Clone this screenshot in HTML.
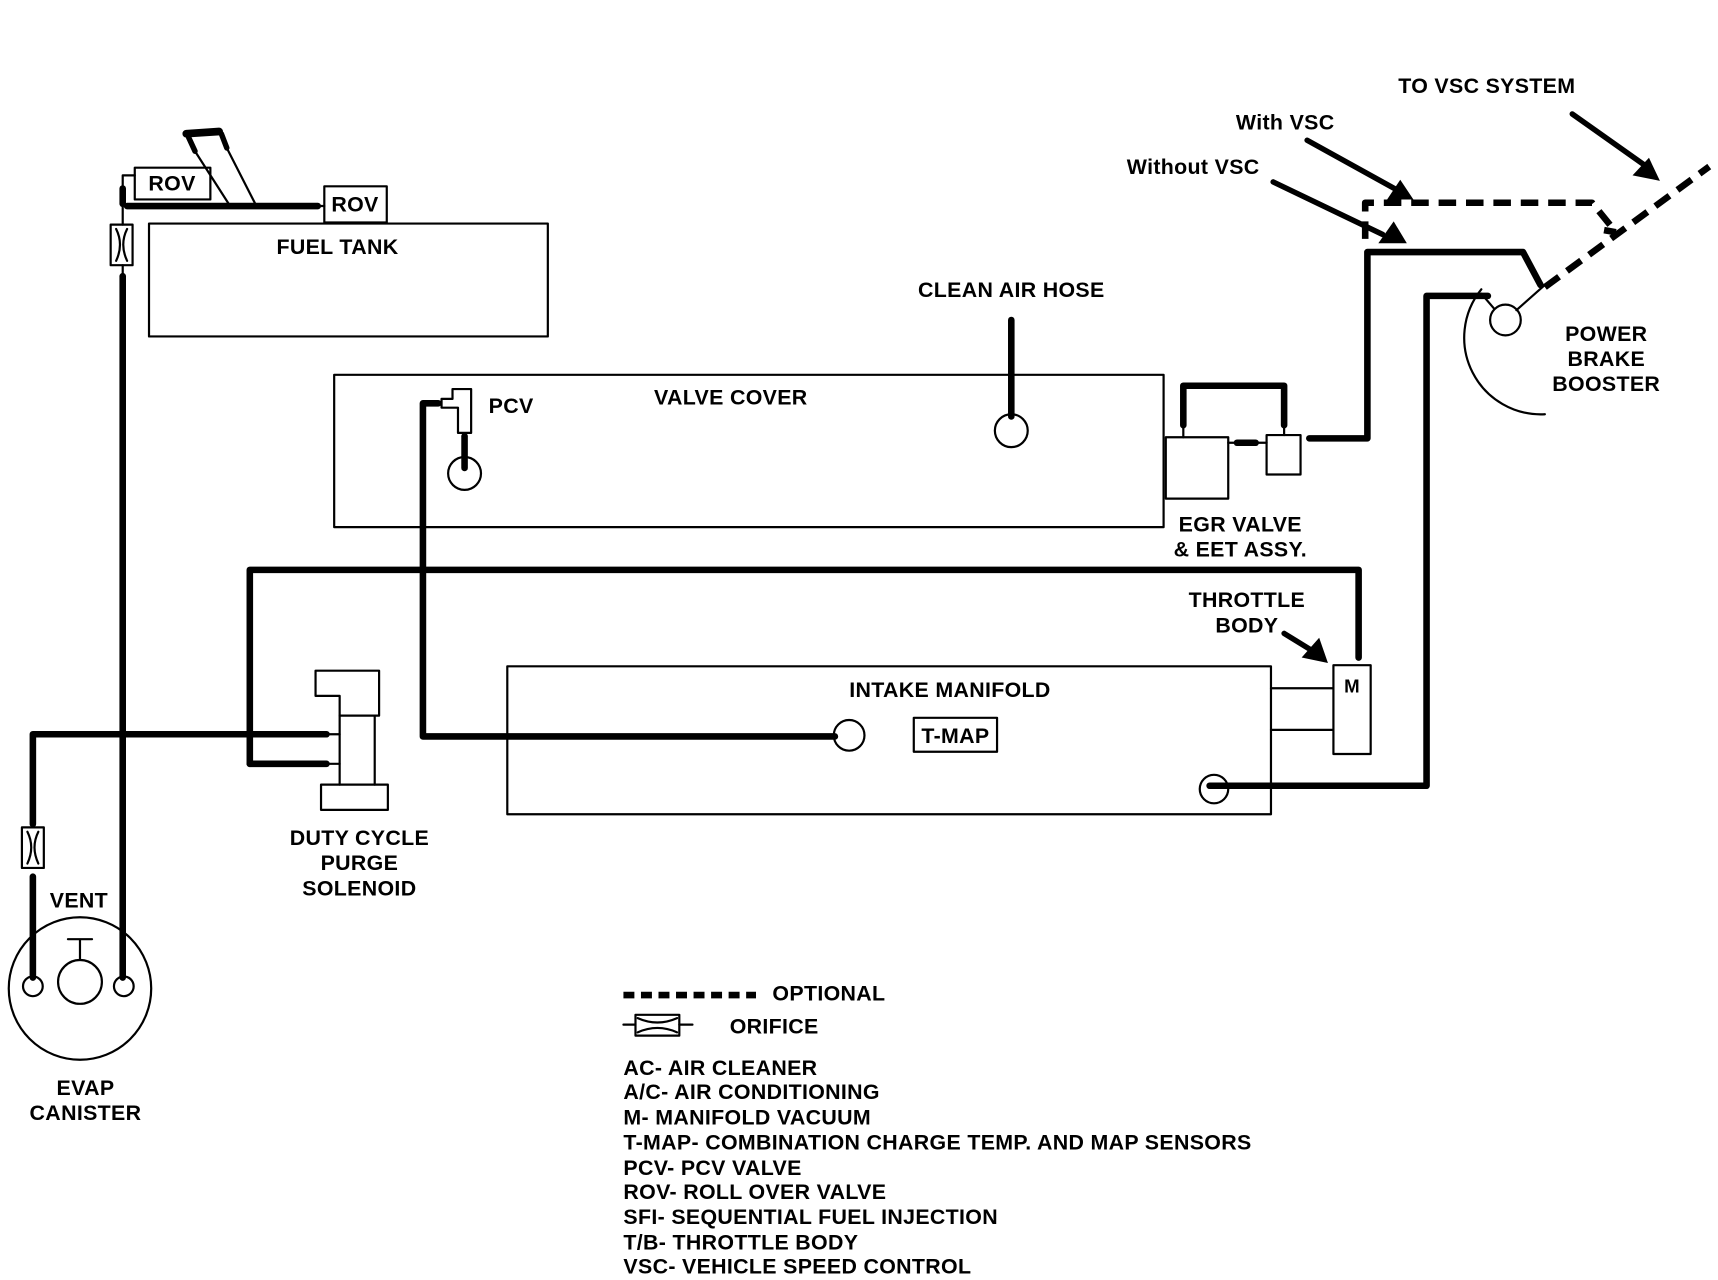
<!DOCTYPE html>
<html><head><meta charset="utf-8"><style>
html,body{margin:0;padding:0;background:#fff;}
svg{display:block;}
text{font-family:"Liberation Sans",Arial,sans-serif;font-weight:bold;fill:#000;letter-spacing:0.3px;}
</style></head><body>
<svg width="1718" height="1280" viewBox="0 0 1568 1168" preserveAspectRatio="none" xmlns="http://www.w3.org/2000/svg">
<g fill="none" stroke="#000" stroke-linejoin="round" stroke-linecap="round">
<rect x="136" y="204" width="364" height="103" stroke-width="2"/>
<rect x="123" y="153" width="69" height="29" stroke-width="2"/>
<rect x="296" y="170" width="57" height="33" stroke-width="2"/>
<path d="M116 188 H290" stroke-width="6"/>
<path d="M290 188 H296" stroke-width="2"/>
<path d="M170 122 L200 120" stroke-width="7"/>
<path d="M172 125 L178 138 M202 122 L207 135" stroke-width="5"/>
<path d="M178 138 L210 188 M207 135 L234 188" stroke-width="2"/>
<path d="M112 172 V160 H123" stroke-width="2"/>
<path d="M112 172 V186" stroke-width="6"/>
<path d="M112 188 V205" stroke-width="2"/>
<rect x="101" y="205" width="20" height="37" stroke-width="2"/>
<path d="M106 209 Q113 223 106 238 M116 209 Q109 223 116 238" stroke-width="2"/>
<path d="M112 242 V250" stroke-width="2"/>
<path d="M112 252 V892" stroke-width="6"/>
<path d="M30 752 V670 H298" stroke-width="6"/>
<rect x="20" y="755" width="20" height="37" stroke-width="2"/>
<path d="M25 759 Q32 773 25 788 M35 759 Q28 773 35 788" stroke-width="2"/>
<path d="M30 800 V892" stroke-width="6"/>
<circle cx="73" cy="902" r="65" stroke-width="2"/>
<circle cx="73" cy="896" r="20" stroke-width="2"/>
<path d="M62 857 H84 M73 857 V876" stroke-width="2"/>
<circle cx="30" cy="900" r="9" stroke-width="2"/>
<circle cx="113" cy="900" r="9" stroke-width="2"/>
<path d="M228 697 V520 H1240 V600" stroke-width="6"/>
<path d="M228 697 H298" stroke-width="6"/>
<path d="M298 670 H310 M298 697 H310" stroke-width="2"/>
<path d="M288 612 H346 V653 H310 V635 H288 Z" stroke-width="2"/>
<path d="M310 653 V716 M342 653 V716" stroke-width="2"/>
<rect x="293" y="716" width="61" height="23" stroke-width="2"/>
<rect x="305" y="342" width="757" height="139" stroke-width="2"/>
<path d="M923 292 V380" stroke-width="6"/>
<circle cx="923" cy="393" r="15" stroke-width="2"/>
<path d="M403 364 H413 V355 H430 V395 H418 V372 H403 Z" stroke-width="2"/>
<path d="M424 398 V427" stroke-width="6"/>
<circle cx="424" cy="432" r="15" stroke-width="2"/>
<path d="M400 368 H386 V672 H762" stroke-width="6"/>
<circle cx="775" cy="671" r="14" stroke-width="2"/>
<rect x="463" y="608" width="697" height="135" stroke-width="2"/>
<rect x="834" y="655" width="76" height="31" stroke-width="2"/>
<path d="M1160 628 H1217 M1160 666 H1217" stroke-width="2"/>
<rect x="1217" y="607" width="34" height="81" stroke-width="2"/>
<circle cx="1108" cy="720" r="13" stroke-width="2"/>
<path d="M1104 717 H1302 V270 H1358" stroke-width="6"/>
<rect x="1064" y="399" width="57" height="56" stroke-width="2"/>
<rect x="1156" y="397" width="31" height="36" stroke-width="2"/>
<path d="M1080 388 V352 H1172 V388" stroke-width="6"/>
<path d="M1080 388 V399 M1172 388 V397" stroke-width="2"/>
<path d="M1129 404 H1146" stroke-width="6"/>
<path d="M1121 404 H1156" stroke-width="2"/>
<path d="M1195 400 H1248 V230 H1390 L1406 260" stroke-width="6"/>
<path d="M1352 264 A70 70 0 0 0 1410 378" stroke-width="2"/>
<circle cx="1374" cy="292" r="14" stroke-width="2"/>
<path d="M1364 282 L1352 268 M1384 283 L1410 260" stroke-width="2"/>
<path d="M1246 218 V185 H1453 L1475 212 L1464 210" stroke-width="6" stroke-dasharray="16 9" stroke-linecap="butt"/>
<path d="M1410 262 L1560 152" stroke-width="6" stroke-dasharray="16 9" stroke-linecap="butt"/>
<path d="M1193 128 L1278 175 M1162 166 L1262 214 M1435 104 L1500 150" stroke-width="5"/>
<path d="M1172 578 L1198 594" stroke-width="5"/>
<path d="M569 908 H690" stroke-width="6" stroke-dasharray="10 6" stroke-linecap="butt"/>
<path d="M569 935 H580 M620 935 H632" stroke-width="2"/>
<rect x="580" y="926" width="40" height="19" stroke-width="2"/>
<path d="M582 929 Q600 937 618 929 M582 942 Q600 934 618 942" stroke-width="2"/>
</g>
<g fill="#000">
<polygon points="1290,182 1266,182 1278,164"/>
<polygon points="1284,222 1258,222 1272,202"/>
<polygon points="1515,165 1490,160 1505,144"/>
<polygon points="1212,605 1188,600 1204,582"/>
</g>
<g font-size="19.5">
<text x="308" y="232" text-anchor="middle">FUEL TANK</text>
<text x="157" y="174" text-anchor="middle">ROV</text>
<text x="324" y="193" text-anchor="middle">ROV</text>
<text x="667" y="369" text-anchor="middle">VALVE COVER</text>
<text x="446" y="377">PCV</text>
<text x="923" y="271" text-anchor="middle">CLEAN AIR HOSE</text>
<text x="1357" y="85" text-anchor="middle">TO VSC SYSTEM</text>
<text x="1173" y="118" text-anchor="middle">With VSC</text>
<text x="1089" y="159" text-anchor="middle">Without VSC</text>
<text x="1466" y="311" text-anchor="middle">POWER</text>
<text x="1466" y="334" text-anchor="middle">BRAKE</text>
<text x="1466" y="357" text-anchor="middle">BOOSTER</text>
<text x="1132" y="485" text-anchor="middle">EGR VALVE</text>
<text x="1132" y="508" text-anchor="middle">&amp; EET ASSY.</text>
<text x="1138" y="554" text-anchor="middle">THROTTLE</text>
<text x="1138" y="577" text-anchor="middle">BODY</text>
<text x="1234" y="632" text-anchor="middle" font-size="17">M</text>
<text x="867" y="636" text-anchor="middle">INTAKE MANIFOLD</text>
<text x="872" y="678" text-anchor="middle">T-MAP</text>
<text x="328" y="771" text-anchor="middle">DUTY CYCLE</text>
<text x="328" y="794" text-anchor="middle">PURGE</text>
<text x="328" y="817" text-anchor="middle">SOLENOID</text>
<text x="72" y="828" text-anchor="middle">VENT</text>
<text x="78" y="999" text-anchor="middle">EVAP</text>
<text x="78" y="1022" text-anchor="middle">CANISTER</text>
<text x="705" y="913">OPTIONAL</text>
<text x="666" y="943">ORIFICE</text>
<text x="569" y="981">AC- AIR CLEANER</text>
<text x="569" y="1003">A/C- AIR CONDITIONING</text>
<text x="569" y="1026">M- MANIFOLD VACUUM</text>
<text x="569" y="1049">T-MAP- COMBINATION CHARGE TEMP. AND  MAP SENSORS</text>
<text x="569" y="1072">PCV- PCV VALVE</text>
<text x="569" y="1094">ROV- ROLL OVER VALVE</text>
<text x="569" y="1117">SFI- SEQUENTIAL FUEL INJECTION</text>
<text x="569" y="1140">T/B- THROTTLE BODY</text>
<text x="569" y="1162">VSC- VEHICLE SPEED CONTROL</text>
</g>
</svg>
</body></html>
